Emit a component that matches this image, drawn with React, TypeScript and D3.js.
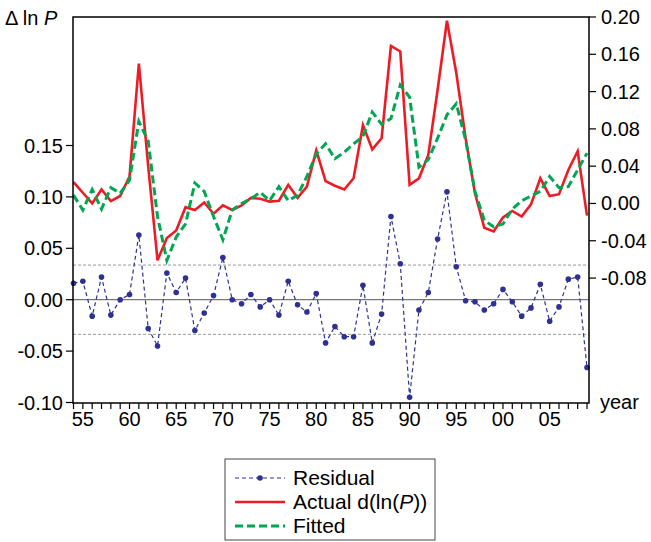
import React, { useEffect, useRef } from 'react';
import * as d3 from 'd3';

// years 1954..2009
const years: number[] = [
	1954, 1955, 1956, 1957, 1958, 1959, 1960, 1961, 1962, 1963,
	1964, 1965, 1966, 1967, 1968, 1969, 1970, 1971, 1972, 1973,
	1974, 1975, 1976, 1977, 1978, 1979, 1980, 1981, 1982, 1983,
	1984, 1985, 1986, 1987, 1988, 1989, 1990, 1991, 1992, 1993,
	1994, 1995, 1996, 1997, 1998, 1999, 2000, 2001, 2002, 2003,
	2004, 2005, 2006, 2007, 2008, 2009,
];

const actual: number[] = [
	0.023, 0.0115, 0.000, 0.015, 0.0025, 0.008, 0.029, 0.150, 0.040, -0.061,
	-0.037, -0.029, -0.004, -0.007, 0.001, -0.011, -0.002, -0.007, -0.002, 0.006,
	0.005, 0.002, 0.003, 0.020, 0.006, 0.018, 0.057, 0.024, 0.019, 0.015,
	0.027, 0.084, 0.058, 0.070, 0.169, 0.163, 0.020, 0.027, 0.052, 0.122,
	0.196, 0.140, 0.070, 0.011, -0.026, -0.030, -0.015, -0.008, -0.014, -0.001,
	0.027, 0.008, 0.010, 0.036, 0.056, -0.013,
];

const fitted: number[] = [
	0.009, -0.007, 0.015, -0.006, 0.017, 0.011, 0.025, 0.088, 0.067, -0.014,
	-0.061, -0.036, -0.022, 0.022, 0.013, -0.014, -0.039, -0.007, 0.000, 0.005,
	0.012, 0.003, 0.018, 0.003, 0.009, 0.029, 0.053, 0.064, 0.048, 0.055,
	0.064, 0.072, 0.098, 0.085, 0.091, 0.127, 0.114, 0.039, 0.047, 0.070,
	0.095, 0.107, 0.068, 0.013, -0.018, -0.025, -0.022, -0.006, 0.003, 0.008,
	0.013, 0.029, 0.017, 0.018, 0.036, 0.054,
];

const residual: number[] = [
	0.016, 0.018, -0.016, 0.022, -0.015, 0.000, 0.005, 0.063, -0.028, -0.045,
	0.026, 0.007, 0.021, -0.030, -0.013, 0.004, 0.041, 0.000, -0.004, 0.005,
	-0.007, 0.000, -0.015, 0.018, -0.005, -0.012, 0.006, -0.042, -0.026, -0.036,
	-0.036, 0.014, -0.042, -0.014, 0.081, 0.035, -0.095, -0.010, 0.007, 0.059,
	0.105, 0.032, -0.001, -0.002, -0.010, -0.004, 0.010, -0.002, -0.016, -0.008,
	0.015, -0.021, -0.007, 0.020, 0.022, -0.066,
];

const leftTicks: number[] = [0.15, 0.10, 0.05, 0.00, -0.05, -0.10];
const rightTicks: number[] = [0.20, 0.16, 0.12, 0.08, 0.04, 0.00, -0.04, -0.08];
const xMajor: number[] = [1955, 1960, 1965, 1970, 1975, 1980, 1985, 1990, 1995, 2000, 2005];
const seBand = 0.0337;

const W = 651;
const H = 542;
const FONT = 'Liberation Sans, Arial, sans-serif';
const AXIS_FS = 20;
const LEG_FS = 21;

// EViews prints a plain hyphen, not the unicode minus
const fmt = (v: number) => d3.format('.2f')(v).replace('\u2212', '-');

const drawChart = (svgEl: SVGSVGElement) => {
	const svg = d3.select(svgEl);
	svg.selectAll('*').remove();

	const left = 73, right = 589, top = 17, bottom = 403;

	const x = d3.scaleLinear().domain([1954, 2009]).range([73.5, 587]);
	const yL = d3.scaleLinear().domain([-0.10, 0.275]).range([402.5, 17]);
	const yR = d3.scaleLinear().domain([-0.214, 0.20]).range([403, 17]);

	// residual reference lines
	svg.append('line')
		.attr('x1', left).attr('x2', right)
		.attr('y1', yL(0)).attr('y2', yL(0))
		.attr('stroke', '#555').attr('stroke-width', 1);
	[seBand, -seBand].forEach((v) => {
		svg.append('line')
			.attr('x1', left).attr('x2', right)
			.attr('y1', yL(v)).attr('y2', yL(v))
			.attr('stroke', '#999').attr('stroke-width', 1)
			.attr('stroke-dasharray', '3,2');
	});

	const resLine = d3.line<number>()
		.x((d, i) => x(years[i]))
		.y((d) => yL(d));
	svg.append('path')
		.attr('d', resLine(residual))
		.attr('fill', 'none')
		.attr('stroke', '#2E3192')
		.attr('stroke-width', 1.2)
		.attr('stroke-dasharray', '4,3');
	svg.selectAll('circle.res')
		.data(residual)
		.enter()
		.append('circle')
		.attr('class', 'res')
		.attr('cx', (d, i) => x(years[i]))
		.attr('cy', (d) => yL(d))
		.attr('r', 2.8)
		.attr('fill', '#2E3192');

	const rLine = d3.line<number>()
		.x((d, i) => x(years[i]))
		.y((d) => yR(d));
	svg.append('path')
		.attr('d', rLine(actual))
		.attr('fill', 'none')
		.attr('stroke', '#ED1C24')
		.attr('stroke-width', 2.6)
		.attr('stroke-linejoin', 'miter');
	svg.append('path')
		.attr('d', rLine(fitted))
		.attr('fill', 'none')
		.attr('stroke', '#00A651')
		.attr('stroke-width', 3)
		.attr('stroke-dasharray', '8,4');

	// frame
	svg.append('rect')
		.attr('x', left).attr('y', top)
		.attr('width', right - left).attr('height', bottom - top)
		.attr('fill', 'none').attr('stroke', '#000').attr('stroke-width', 1.5);

	// left axis
	leftTicks.forEach((v) => {
		svg.append('line')
			.attr('x1', left - 7).attr('x2', left)
			.attr('y1', yL(v)).attr('y2', yL(v))
			.attr('stroke', '#000').attr('stroke-width', 1.2);
		svg.append('text')
			.attr('x', 63).attr('y', yL(v) + 7)
			.attr('text-anchor', 'end')
			.attr('font-family', FONT).attr('font-size', AXIS_FS)
			.text(fmt(v));
	});

	// right axis
	rightTicks.forEach((v) => {
		svg.append('line')
			.attr('x1', right).attr('x2', right + 7)
			.attr('y1', yR(v)).attr('y2', yR(v))
			.attr('stroke', '#000').attr('stroke-width', 1.2);
		svg.append('text')
			.attr('x', 601).attr('y', yR(v) + 7)
			.attr('text-anchor', 'start')
			.attr('font-family', FONT).attr('font-size', AXIS_FS)
			.text(fmt(v));
	});

	// bottom axis
	years.forEach((yr) => {
		svg.append('line')
			.attr('x1', x(yr)).attr('x2', x(yr))
			.attr('y1', bottom).attr('y2', bottom + 6)
			.attr('stroke', '#000').attr('stroke-width', 1.2);
	});
	xMajor.forEach((yr) => {
		svg.append('text')
			.attr('x', x(yr)).attr('y', 426)
			.attr('text-anchor', 'middle')
			.attr('font-family', FONT).attr('font-size', AXIS_FS)
			.text(String(yr % 100).padStart(2, '0'));
	});

	svg.append('text')
		.attr('x', 600).attr('y', 409)
		.attr('font-family', FONT).attr('font-size', AXIS_FS)
		.text('year');

	const yTitle = svg.append('text')
		.attr('x', 5).attr('y', 25)
		.attr('font-family', FONT).attr('font-size', AXIS_FS);
	yTitle.append('tspan').text('\u0394 ln ');
	yTitle.append('tspan').attr('font-style', 'italic').text('P');

	// legend
	const lg = svg.append('g');
	lg.append('rect')
		.attr('x', 225).attr('y', 459)
		.attr('width', 210).attr('height', 81)
		.attr('fill', '#fff').attr('stroke', '#444').attr('stroke-width', 1);
	const rows = [478, 502, 526];
	lg.append('line')
		.attr('x1', 235).attr('x2', 285).attr('y1', rows[0]).attr('y2', rows[0])
		.attr('stroke', '#2E3192').attr('stroke-width', 1.2).attr('stroke-dasharray', '4,3');
	lg.append('circle')
		.attr('cx', 260).attr('cy', rows[0]).attr('r', 2.8).attr('fill', '#2E3192');
	lg.append('line')
		.attr('x1', 235).attr('x2', 285).attr('y1', rows[1]).attr('y2', rows[1])
		.attr('stroke', '#ED1C24').attr('stroke-width', 2.6);
	lg.append('line')
		.attr('x1', 235).attr('x2', 285).attr('y1', rows[2]).attr('y2', rows[2])
		.attr('stroke', '#00A651').attr('stroke-width', 3).attr('stroke-dasharray', '8,4');

	lg.append('text')
		.attr('x', 293).attr('y', rows[0] + 7)
		.attr('font-family', FONT).attr('font-size', LEG_FS)
		.text('Residual');
	const act = lg.append('text')
		.attr('x', 293).attr('y', rows[1] + 7)
		.attr('font-family', FONT).attr('font-size', LEG_FS);
	act.append('tspan').text('Actual d(ln(');
	act.append('tspan').attr('font-style', 'italic').text('P');
	act.append('tspan').text('))');
	lg.append('text')
		.attr('x', 293).attr('y', rows[2] + 7)
		.attr('font-family', FONT).attr('font-size', LEG_FS)
		.text('Fitted');
};

const App = () => {
	const ref = useRef<SVGSVGElement>(null);

	useEffect(() => {
		if (ref.current) drawChart(ref.current);
	}, []);

	return (
		<svg
			ref={ ref }
			width={ W }
			height={ H }
			style={{ position: 'absolute', left: 0, top: 0, background: '#fff' }}
		/>
	);
};

export default App;
